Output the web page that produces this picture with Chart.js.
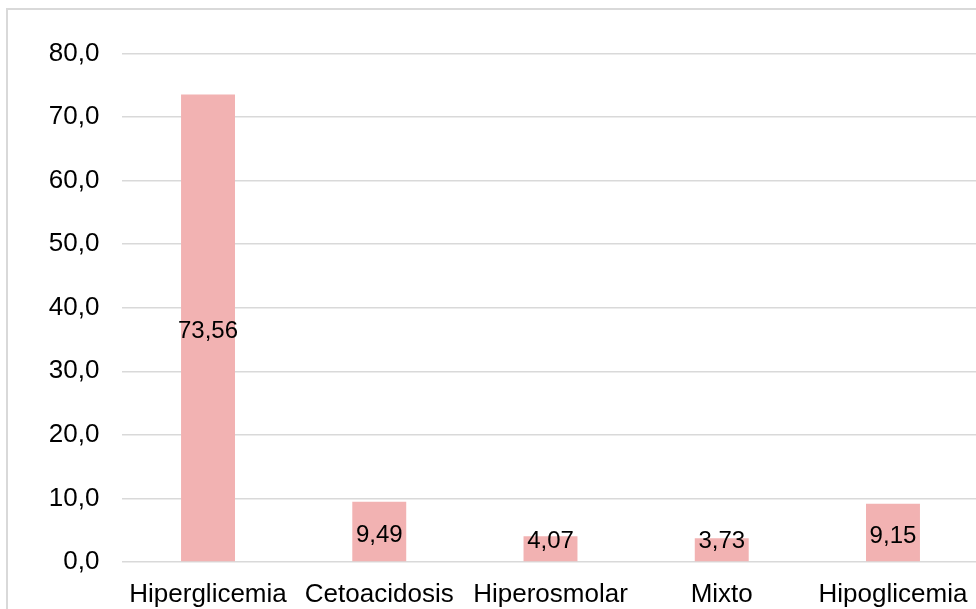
<!DOCTYPE html>
<html>
<head>
<meta charset="utf-8">
<script src="https://cdn.jsdelivr.net/npm/chart.js@4"></script>
<style>
  html, body { margin: 0; padding: 0; overflow: hidden; background: #fff; }
  #wrap { position: absolute; left: 0; top: 0; width: 990px; height: 640px; }
</style>
</head>
<body>
<div id="wrap"><canvas id="c" width="990" height="640"></canvas></div>
<script>
const categories = ['Hiperglicemia', 'Cetoacidosis', 'Hiperosmolar', 'Mixto', 'Hipoglicemia'];
const values = [73.56, 9.49, 4.07, 3.73, 9.15];
const yTicks = [0, 10, 20, 30, 40, 50, 60, 70, 80];

const fmt = (v, d) => v.toFixed(d).replace('.', ',');

const frame = {
  id: 'frame',
  beforeDraw(chart) {
    const ctx = chart.ctx;
    ctx.save();
    ctx.fillStyle = '#ffffff';
    ctx.fillRect(0, 0, chart.width, chart.height);
    ctx.strokeStyle = '#d9d9d9';
    ctx.lineWidth = 2;
    ctx.strokeRect(7, 9, 1200, 1200);
    ctx.restore();
  }
};

const labelsPlugin = {
  id: 'barLabels',
  afterDatasetsDraw(chart) {
    const ctx = chart.ctx;
    const meta = chart.getDatasetMeta(0);
    ctx.save();
    ctx.font = "24px 'Liberation Sans', Arial, sans-serif";
    ctx.fillStyle = '#000000';
    ctx.textAlign = 'center';
    ctx.textBaseline = 'middle';
    meta.data.forEach((el, i) => {
      const mid = (el.y + el.base) / 2;
      const y = Math.min(mid, el.base - 24) + 4;
      ctx.fillText(fmt(values[i], 2), el.x, y);
    });
    ctx.restore();
  }
};

new Chart(document.getElementById('c'), {
  type: 'bar',
  data: {
    labels: categories,
    datasets: [{
      data: values,
      backgroundColor: 'rgb(242,178,178)',
      borderWidth: 0,
      categoryPercentage: 1,
      barPercentage: 0.315
    }]
  },
  options: {
    responsive: false,
    animation: false,
    devicePixelRatio: 1,
    layout: { padding: { left: 0, right: 11.4, top: 53.5, bottom: 18 } },
    plugins: { legend: { display: false }, tooltip: { enabled: false } },
    scales: {
      x: {
        grid: { display: false, drawTicks: false },
        border: { display: false },
        ticks: {
          color: '#000',
          font: { family: "'Liberation Sans', Arial, sans-serif", size: 26 },
          padding: 17,
          maxRotation: 0,
          autoSkip: false
        },
        afterFit(s) { s.height = 640 - 18 - 562; }
      },
      y: {
        min: 0,
        max: 80,
        afterBuildTicks(s) { s.ticks = yTicks.map(v => ({ value: v })); },
        grid: { color: '#d9d9d9', lineWidth: 1.6, drawTicks: false },
        border: { display: false },
        ticks: {
          color: '#000',
          font: { family: "'Liberation Sans', Arial, sans-serif", size: 26 },
          padding: 23,
          callback: v => fmt(v, 1)
        },
        afterFit(s) { s.width = 122.4; }
      }
    }
  },
  plugins: [frame, labelsPlugin]
});
</script>
</body>
</html>
